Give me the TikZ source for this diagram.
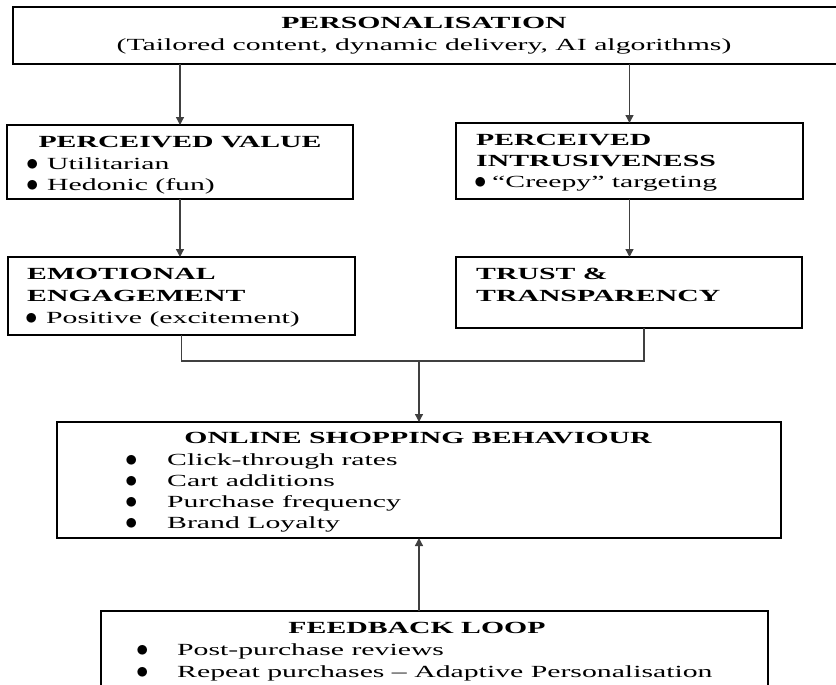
\documentclass[tikz,border=0pt]{standalone}
\usepackage{fontspec}
\setmainfont{Liberation Serif}[FakeStretch=1.75]
\usepackage{tikz}
\usetikzlibrary{arrows.meta}

\newcommand{\bul}[1]{\makebox[#1][l]{\smash{\raisebox{-1.2pt}{\fontsize{25}{22}\selectfont$\bullet$}}}}

\begin{document}
\begin{tikzpicture}[
		x=1pt, y=-1pt,
		every node/.style={inner sep=0pt, font=\fontsize{17}{22}\selectfont},
		box/.style={draw, line width=2.4pt, outer sep=0pt, anchor=north west},
		head/.style={anchor=base, font=\fontsize{17}{22}\selectfont\bfseries},
		headl/.style={anchor=base west, font=\fontsize{17}{22}\selectfont\bfseries},
		line/.style={anchor=base west},
		link/.style={black!75, line width=1.3pt},
		arr/.style={link, -{Triangle[length=8pt, width=8pt]}}
		]

	\useasboundingbox (0, 0) rectangle (836, 685);

	% Personalisation
	\node[box, minimum width=832, minimum height=57] (pers) at (13, 7) {};
	\node[head] (pers-t) at (424, 29) {PERSONALISATION};
	\node[anchor=base] (pers-s) at (424, 51) {(Tailored content, dynamic delivery, AI algorithms)};

	% Perceived value
	\node[box, minimum width=346, minimum height=74] (pv) at (7, 125) {};
	\node[head] (pv-t) at (180, 147) {PERCEIVED VALUE};
	\node[line] (pv-1) at (26, 169) {\bul{21pt}Utilitarian};
	\node[line] (pv-2) at (26, 190) {\bul{21pt}Hedonic (fun)};

	% Perceived intrusiveness
	\node[box, minimum width=347, minimum height=76] (pi) at (456, 123) {};
	\node[headl] (pi-t1) at (476, 145) {PERCEIVED};
	\node[headl] (pi-t2) at (476, 166) {INTRUSIVENESS};
	\node[line] (pi-1) at (474, 187) {\bul{18pt}“Creepy” targeting};

	% Emotional engagement
	\node[box, minimum width=347, minimum height=78] (ee) at (8, 257) {};
	\node[headl] (ee-t1) at (27, 279) {EMOTIONAL};
	\node[headl] (ee-t2) at (27, 301) {ENGAGEMENT};
	\node[line] (ee-1) at (25, 323) {\bul{21pt}Positive (excitement)};

	% Trust and transparency
	\node[box, minimum width=346, minimum height=71] (tt) at (456, 257) {};
	\node[headl] (tt-t1) at (476, 279) {TRUST \&};
	\node[headl] (tt-t2) at (476, 301) {TRANSPARENCY};

	% Online shopping behaviour
	\node[box, minimum width=724, minimum height=116] (osb) at (57, 422) {};
	\node[head] (osb-t) at (418, 443) {ONLINE SHOPPING BEHAVIOUR};
	\foreach \t [count=\i] in {Click-through rates, Cart additions, Purchase frequency, Brand Loyalty}{
		\node[line] (osb-\i) at (125, 444+21*\i) {\bul{42pt}\t};
	}

	% Feedback loop
	\node[box, minimum width=667, minimum height=100] (fl) at (101, 611) {};
	\node[head] (fl-t) at (417, 633) {FEEDBACK LOOP};
	\foreach \t [count=\i] in {Post-purchase reviews, Repeat purchases – Adaptive Personalisation}{
		\node[line] (fl-\i) at (136, 633+22*\i) {\bul{41pt}\t};
	}

	% Arrows
	\draw[arr] (pers.south -| pv.north) -- (pv.north);
	\draw[arr] (pers.south -| pi.north) -- (pi.north);
	\draw[arr] (pv.south) -- (pv.south |- ee.north);
	\draw[arr] (pi.south) -- (pi.south |- tt.north);

	% Join
	\coordinate (join) at (osb.north |- 0, 361);
	\draw[link] (ee.south) |- (join) -| ([xshift=15pt]tt.south);
	\draw[arr] (join) -- (osb.north);
	\draw[arr] (osb.south |- fl.north) -- (osb.south);

\end{tikzpicture}
\end{document}
